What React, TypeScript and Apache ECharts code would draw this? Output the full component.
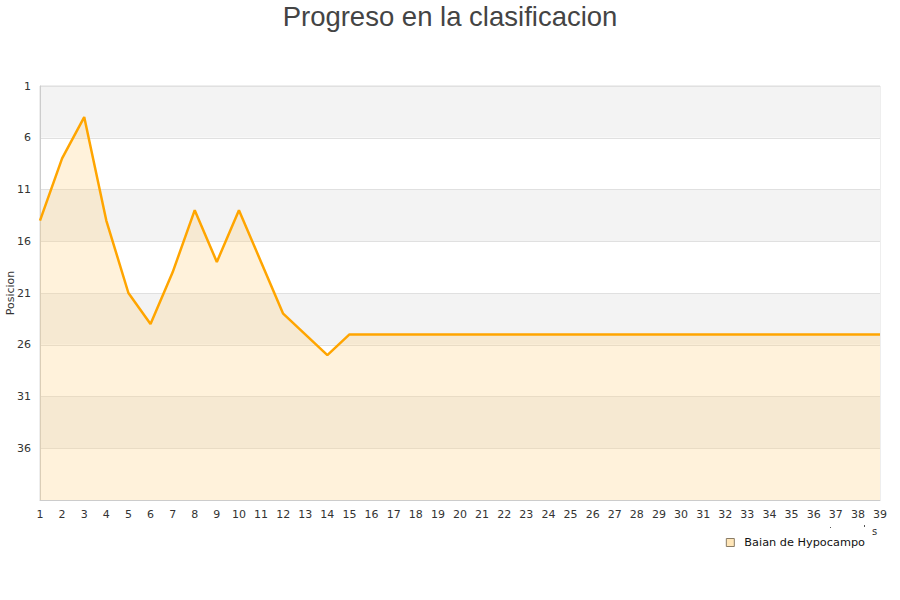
import React, { useEffect, useRef } from "react";
import * as echarts from "echarts";

const jornadas: string[] = Array.from({ length: 39 }, (_, i) => String(i + 1));
const posiciones: number[] = [
  14, 8, 4, 14, 21, 24, 19, 13, 18, 13, 18, 23, 25, 27, 25,
  25, 25, 25, 25, 25, 25, 25, 25, 25, 25, 25, 25, 25, 25, 25,
  25, 25, 25, 25, 25, 25, 25, 25, 25,
];
const equipo = "Baian de Hypocampo";
const titulo = "Progreso en la clasificacion";

export default function App() {
  const ref = useRef<HTMLDivElement>(null);

  useEffect(() => {
    if (!ref.current) return;
    const chart = echarts.init(ref.current, null, { renderer: "svg" });
    chart.setOption({
      animation: false,
      backgroundColor: "#ffffff",
      textStyle: { fontFamily: "DejaVu Sans" },
      title: {
        text: titulo,
        left: "center",
        top: -3,
        textStyle: {
          fontFamily: "Liberation Sans",
          fontSize: 27.5,
          fontWeight: "normal",
          color: "#444444",
        },
      },
      legend: {
        data: [{ name: equipo, icon: "rect" }],
        right: 30,
        top: 532,
        itemWidth: 8,
        itemHeight: 8,
        itemGap: 6,
        itemStyle: { color: "#FFE6B8", borderColor: "#8a7c66", borderWidth: 1 },
        textStyle: {
          fontSize: 11.3,
          color: "#111111",
          fontFamily: "DejaVu Sans",
          padding: [0, 0, 0, 5],
        },
      },
      grid: {
        left: 40,
        right: 20,
        top: 86,
        bottom: 100,
        outerBoundsMode: "none",
        containLabel: false,
        show: true,
        borderColor: "#dddddd",
        borderWidth: 1,
      },
      xAxis: {
        type: "category",
        data: jornadas,
        boundaryGap: false,
        axisLine: { lineStyle: { color: "#cccccc" } },
        axisTick: { show: false },
        axisLabel: { color: "#333333", fontSize: 11, margin: 9, interval: 0 },
      },
      yAxis: {
        type: "value",
        inverse: true,
        min: 1,
        max: 41,
        interval: 5,
        name: "Posicion",
        nameLocation: "middle",
        nameGap: 24,
        nameMoveOverlap: false,
        nameTextStyle: { color: "#333333", fontSize: 11 },
        axisLine: { show: true, lineStyle: { color: "#cccccc" } },
        axisTick: { show: false },
        axisLabel: {
          color: "#333333",
          fontSize: 11,
          margin: 9,
          formatter: (v: number) => (v === 41 ? "" : String(v)),
        },
        splitLine: { show: true, lineStyle: { color: "#e0e0e0" } },
        splitArea: {
          show: true,
          areaStyle: { color: ["#f3f3f3", "#ffffff"] },
        },
      },
      series: [
        {
          name: equipo,
          type: "line",
          data: posiciones,
          showSymbol: false,
          symbol: "none",
          lineStyle: { color: "#FFA500", width: 2.5 },
          itemStyle: { color: "#FFE6B8" },
          areaStyle: { origin: "end", color: "rgba(255, 212, 134, 0.42)" },
        },
      ],
      graphic: [
        {
          type: "text",
          left: 872,
          top: 526,
          style: { text: "s", fontSize: 10, fill: "#333333", fontFamily: "DejaVu Sans" },
        },
        { type: "rect", shape: { x: 830, y: 527, width: 1, height: 1 }, style: { fill: "#555555" } },
        { type: "rect", shape: { x: 864, y: 525, width: 1, height: 2 }, style: { fill: "#555555" } },
      ],
    });
    return () => chart.dispose();
  }, []);

  return <div ref={ref} style={{ width: 900, height: 600, position: "absolute", left: 0, top: 0 }} />;
}
